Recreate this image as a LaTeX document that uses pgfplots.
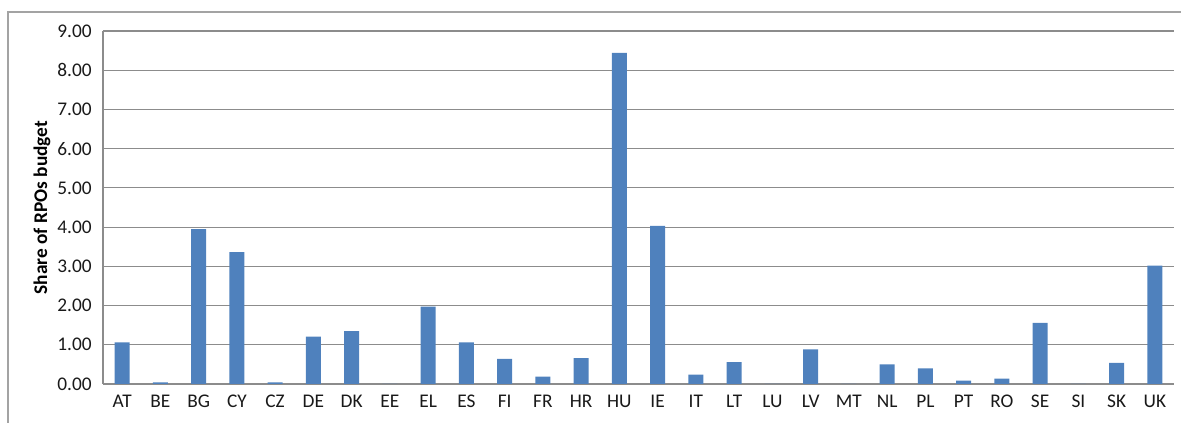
\documentclass[border=0pt]{standalone}
\usepackage{pgfplots}
\pgfplotsset{compat=1.18}
\usepackage{fontspec}
\setmainfont{Carlito}
\definecolor{barblue}{HTML}{4F81BD}
\definecolor{gridgray}{HTML}{8C8C8C}
\begin{document}
\begin{tikzpicture}
\useasboundingbox (-77.25pt,-29.25pt) rectangle (808.5pt,288pt);
\draw[gridgray!80, line width=0.8pt] (-71.25pt,-40pt) -- (-71.25pt,279pt) -- (820pt,279pt);
\begin{axis}[
  scale only axis,
  width=803.25pt, height=264.75pt,
  xmin=-0.5, xmax=27.5,
  ymin=0, ymax=9,
  ytick={0,1,...,9},
  xtick={0,...,27},
  xticklabels={AT,BE,BG,CY,CZ,DE,DK,EE,EL,ES,FI,FR,HR,HU,IE,IT,LT,LU,LV,MT,NL,PL,PT,RO,SE,SI,SK,UK},
  major tick length=0pt,
  ymajorgrids,
  grid style={gridgray, line width=0.8pt},
  axis x line*=bottom, axis y line*=left,
  axis line style={gridgray, line width=0.8pt, -},
  /pgf/number format/assume math mode=true,
  yticklabel={\pgfmathprintnumber[fixed,fixed zerofill,precision=2]{\tick}},
  every tick label/.append style={font=\fontsize{14.5}{16}\selectfont, text=black!90},
  yticklabel style={xshift=-5pt},
  xticklabel style={yshift=-5pt},
  ylabel={Share of RPOs budget},
  ylabel style={at={(axis description cs:-0.057,0.5)}, anchor=center, font=\fontsize{14.5}{16}\selectfont\bfseries},
  clip=false,
]
\addplot[ybar, bar width=11.25pt, fill=barblue, draw=none] coordinates {
(0,1.06) (1,0.04) (2,3.95) (3,3.36) (4,0.04) (5,1.21) (6,1.35) (7,0)
(8,1.97) (9,1.06) (10,0.64) (11,0.19) (12,0.66) (13,8.44) (14,4.03) (15,0.24)
(16,0.56) (17,0) (18,0.88) (19,0) (20,0.50) (21,0.40) (22,0.085) (23,0.14)
(24,1.56) (25,0) (26,0.54) (27,3.02)
};
\end{axis}
\end{tikzpicture}
\end{document}
